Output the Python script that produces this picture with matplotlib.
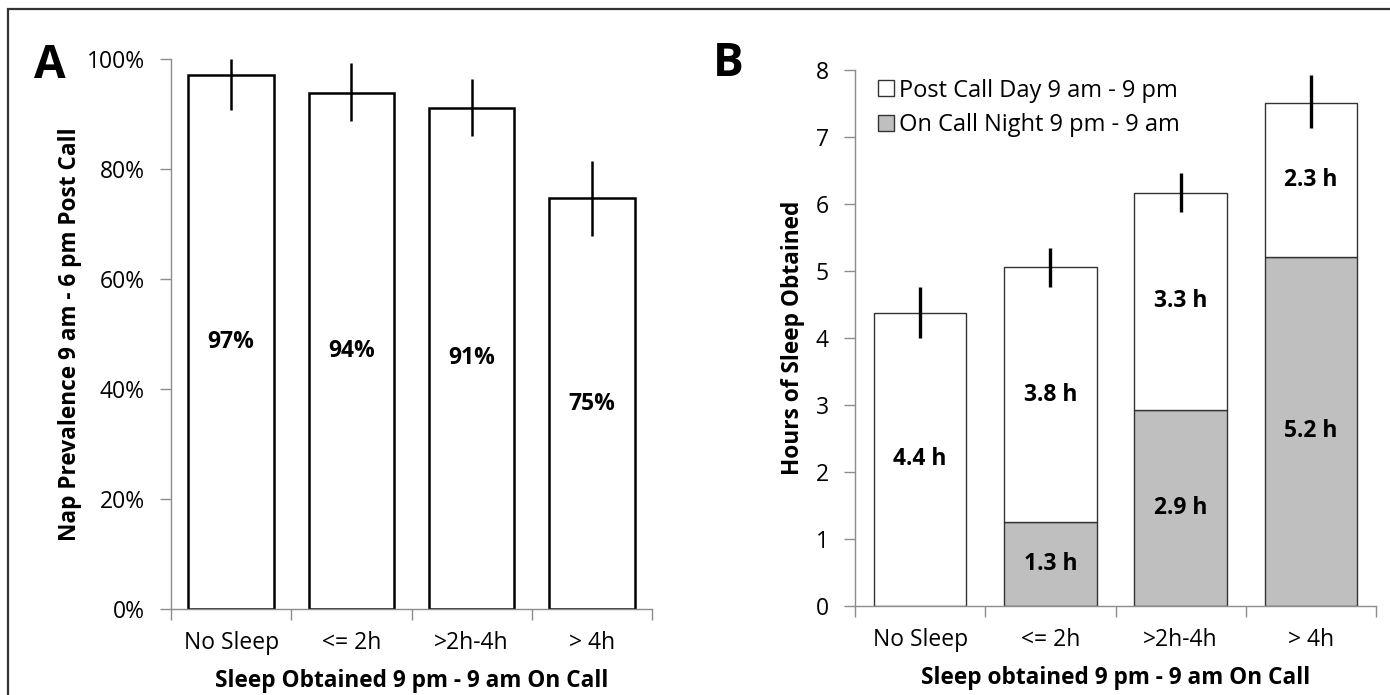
import matplotlib.pyplot as plt
from matplotlib.patches import Rectangle

plt.rcParams['font.family'] = ['Open Sans', 'DejaVu Sans']

# ---- data ----
categories = ['No Sleep', '<= 2h', '>2h-4h', '> 4h']

# panel A: nap prevalence (%) with error bar ends
nap_pct = [97.1, 93.9, 91.1, 74.7]
nap_err_lo = [90.7, 88.8, 86.0, 67.8]
nap_err_hi = [100.0, 99.2, 96.3, 81.4]
nap_labels = ['97%', '94%', '91%', '75%']

# panel B: hours of sleep, stacked
night_hours = [0.0, 1.25, 2.92, 5.21]
day_hours = [4.38, 3.81, 3.25, 2.30]
total_err_lo = [4.00, 4.76, 5.88, 7.13]
total_err_hi = [4.76, 5.35, 6.47, 7.93]
night_labels = ['', '1.3 h', '2.9 h', '5.2 h']
day_labels = ['4.4 h', '3.8 h', '3.3 h', '2.3 h']

AX_GRAY = '#8c8c8c'
NIGHT_GRAY = '#bfbfbf'
TICK_FS = 16.5
LABEL_FS = 16.3
VAL_FS = 16.5
LEG_FS = 17

fig = plt.figure(figsize=(13.9, 6.95), dpi=100)

# outer frame (only left and top edges fall inside the picture)
fig.patches.append(Rectangle((8 / 1390, -0.2), 1.5, 1.2 - 9 / 695,
                             transform=fig.transFigure, fill=False,
                             edgecolor='#333333', linewidth=1.6, zorder=0))


def style_axes(ax):
    for s in ['top', 'right']:
        ax.spines[s].set_visible(False)
    for s in ['left', 'bottom']:
        ax.spines[s].set_color(AX_GRAY)
        ax.spines[s].set_linewidth(1.0)
    ax.set_xlim(-0.5, len(categories) - 0.5)
    # boundary ticks between categories, labels sit on minor ticks
    ax.set_xticks([i - 0.5 for i in range(len(categories) + 1)])
    ax.set_xticklabels([])
    ax.set_xticks(range(len(categories)), minor=True)
    ax.set_xticklabels(categories, minor=True, fontsize=TICK_FS)
    ax.tick_params(axis='x', which='major', direction='out', length=8,
                   color=AX_GRAY, width=1.0)
    ax.tick_params(axis='x', which='minor', length=0, pad=16)
    ax.tick_params(axis='y', direction='out', length=8, color=AX_GRAY,
                   width=1.0, labelsize=TICK_FS, pad=11)


# ---- panel A ----
axA = fig.add_axes([171 / 1390, 86 / 695, 481 / 1390, 550 / 695])
x = range(len(categories))
axA.bar(x, nap_pct, width=0.71, color='white', edgecolor='black', linewidth=1.8, zorder=2)
axA.vlines(x, nap_err_lo, nap_err_hi, color='black', linewidth=1.8, zorder=3)
for i, (v, lab) in enumerate(zip(nap_pct, nap_labels)):
    axA.text(i, v / 2, lab, ha='center', va='center', fontsize=VAL_FS,
             fontweight='bold', zorder=4)
axA.set_ylim(0, 100)
axA.set_yticks(range(0, 101, 20))
axA.set_yticklabels([f'{t}%' for t in range(0, 101, 20)])
style_axes(axA)
axA.set_xlabel('Sleep Obtained 9 pm - 9 am On Call', fontsize=LABEL_FS, fontweight='bold')
axA.xaxis.label.set_va('center')
axA.xaxis.set_label_coords(0.5, -0.131)
axA.set_ylabel('Nap Prevalence 9 am - 6 pm Post Call', fontsize=LABEL_FS, fontweight='bold')
axA.yaxis.label.set_va('center')
axA.yaxis.set_label_coords(-0.21, 0.5)

# ---- panel B ----
axB = fig.add_axes([855 / 1390, 89 / 695, 521 / 1390, 536 / 695])
axB.bar(x, night_hours, width=0.71, color=NIGHT_GRAY, edgecolor='#333333',
        linewidth=1.0, label='On Call Night 9 pm - 9 am', zorder=2)
axB.bar(x, day_hours, bottom=night_hours, width=0.71, color='white',
        edgecolor='#333333', linewidth=1.0, label='Post Call Day 9 am - 9 pm', zorder=2)
axB.vlines(x, total_err_lo, total_err_hi, color='black', linewidth=2.4, zorder=3)
for i in x:
    if night_labels[i]:
        axB.text(i, night_hours[i] / 2, night_labels[i], ha='center', va='center',
                 fontsize=VAL_FS, fontweight='bold', zorder=4)
    axB.text(i, night_hours[i] + day_hours[i] / 2, day_labels[i], ha='center',
             va='center', fontsize=VAL_FS, fontweight='bold', zorder=4)
axB.set_ylim(0, 8)
axB.set_yticks(range(0, 9))
style_axes(axB)
axB.set_xlabel('Sleep obtained 9 pm - 9 am On Call', fontsize=LABEL_FS, fontweight='bold')
axB.xaxis.label.set_va('center')
axB.xaxis.set_label_coords(0.5, -0.134)
axB.set_ylabel('Hours of Sleep Obtained', fontsize=LABEL_FS, fontweight='bold')
axB.yaxis.label.set_va('center')
axB.yaxis.set_label_coords(-0.119, 0.5)

handles, labels = axB.get_legend_handles_labels()
axB.legend(handles[::-1], labels[::-1], loc='upper left', bbox_to_anchor=(0.045, 0.984),
           frameon=False, fontsize=LEG_FS, handlelength=0.65, handleheight=0.65,
           handletextpad=0.2, labelspacing=0.46, borderaxespad=0, borderpad=0)

fig.text(50 / 1390, 1 - 66 / 695, 'A', fontsize=33, fontweight='bold', ha='center', va='center')
fig.text(728 / 1390, 1 - 63 / 695, 'B', fontsize=33, fontweight='bold', ha='center', va='center')

fig.savefig('out.png', dpi=100)
